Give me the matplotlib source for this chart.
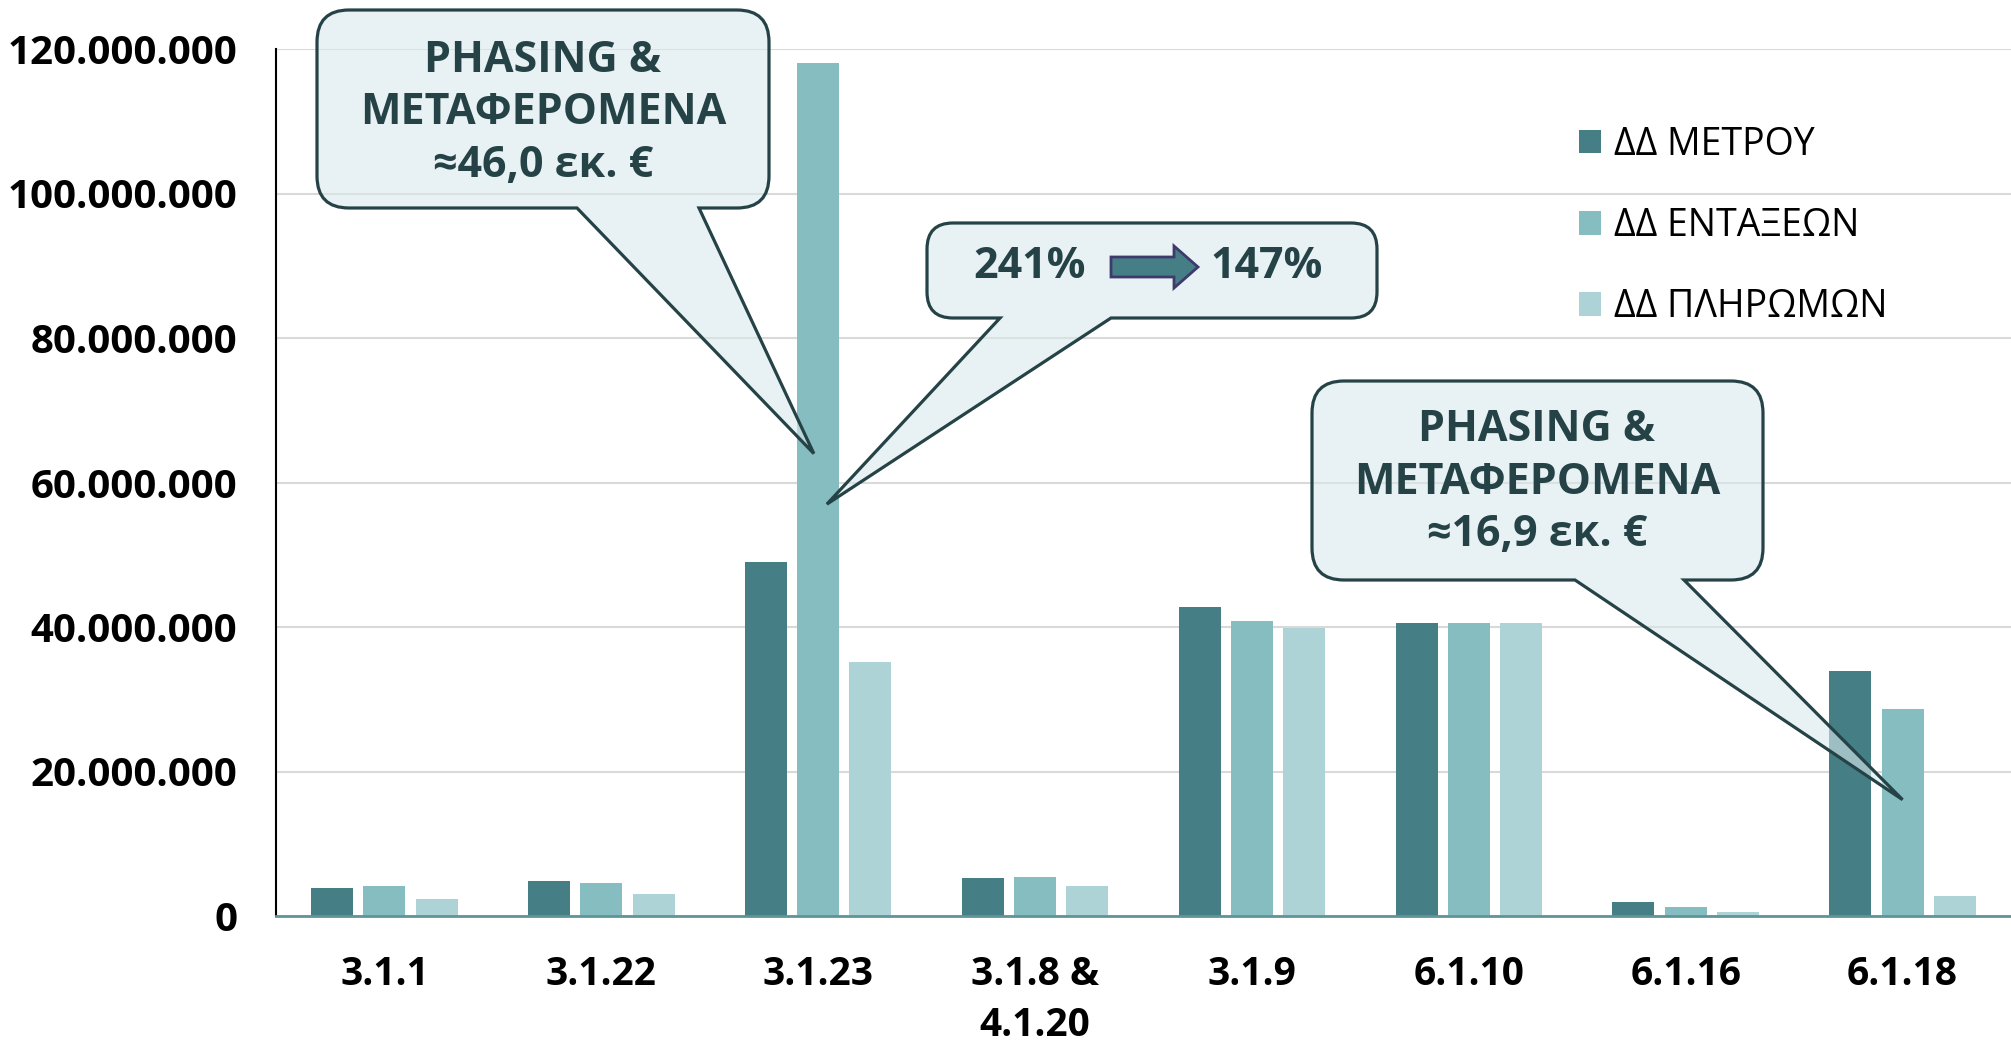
import numpy as np
import matplotlib.pyplot as plt
from matplotlib.path import Path
from matplotlib.patches import PathPatch, Polygon
from matplotlib.ticker import FuncFormatter

plt.rcParams['font.family'] = ['Open Sans', 'DejaVu Sans']

W, H = 2011, 1042

# Δεδομένα (εκτίμηση από το γράφημα)
categories = ['3.1.1', '3.1.22', '3.1.23', '3.1.8 &\n4.1.20', '3.1.9', '6.1.10', '6.1.16', '6.1.18']
dd_metrou = [3.9e6, 4.9e6, 49.0e6, 5.2e6, 42.8e6, 40.6e6, 1.9e6, 33.9e6]
dd_entaxeon = [4.1e6, 4.5e6, 118.0e6, 5.4e6, 40.8e6, 40.6e6, 1.3e6, 28.7e6]
dd_pliromon = [2.4e6, 3.0e6, 35.2e6, 4.2e6, 39.8e6, 40.6e6, 0.6e6, 2.7e6]
series_names = ['ΔΔ ΜΕΤΡΟΥ', 'ΔΔ ΕΝΤΑΞΕΩΝ', 'ΔΔ ΠΛΗΡΩΜΩΝ']
colors = ['#457f85', '#86bdc1', '#aed3d6']
yticks = np.arange(0, 120e6 + 1, 20e6)

fig = plt.figure(figsize=(W / 100, H / 100), dpi=100)
ax = fig.add_axes([276 / W, 1 - 916 / H, 1 - 276 / W, (916 - 49) / H])

x = np.arange(len(categories))
bw = 0.194
step = 0.241
for i, (vals, name, c) in enumerate(zip([dd_metrou, dd_entaxeon, dd_pliromon], series_names, colors)):
    ax.bar(x + (i - 1) * step, vals, width=bw, color=c, label=name, zorder=2)

ax.set_xlim(-0.5, len(categories) - 0.5)
ax.set_ylim(0, 120e6)
ax.set_yticks(yticks)
ax.yaxis.set_major_formatter(FuncFormatter(lambda v, p: f'{v:,.0f}'.replace(',', '.')))
ax.set_xticks(x)
ax.set_xticklabels(categories, linespacing=1.4)
ax.tick_params(axis='y', length=0, pad=28, labelsize=29)
ax.tick_params(axis='x', length=0, pad=28, labelsize=28)
for lab in ax.get_xticklabels() + ax.get_yticklabels():
    lab.set_fontweight('bold')
ax.grid(axis='y', color='#d9d9d9', linewidth=1.5, zorder=0)
ax.set_axisbelow(True)
for s in ['top', 'right']:
    ax.spines[s].set_visible(False)
ax.spines['left'].set_color('black')
ax.spines['left'].set_linewidth(1.5)
ax.spines['bottom'].set_color('#5f9599')
ax.spines['bottom'].set_linewidth(2)

ax.legend(loc='upper left', bbox_to_anchor=(1545 / W, 1 - 92 / H), bbox_transform=fig.transFigure,
          frameon=False, fontsize=27, handlelength=0.6, handleheight=0.6, handletextpad=0.35,
          labelspacing=1.15)

edge = '#254346'
fill = (217 / 255, 233 / 255, 235 / 255, 0.6)


def fig_pt(px, py):
    # pixel (από πάνω αριστερά) -> συντεταγμένες figure
    return (px / W, 1 - py / H)


def data_pt(xd, yd):
    disp = ax.transData.transform((xd, yd))
    return tuple(fig.transFigure.inverted().transform(disp))


def callout(box, base, tip_data, r=32):
    x0, y0, x1, y1 = box
    b0, b1 = base
    verts = [fig_pt(x0 + r, y0), fig_pt(x1 - r, y0), fig_pt(x1, y0), fig_pt(x1, y0 + r),
             fig_pt(x1, y1 - r), fig_pt(x1, y1), fig_pt(x1 - r, y1),
             fig_pt(b1, y1), data_pt(*tip_data), fig_pt(b0, y1),
             fig_pt(x0 + r, y1), fig_pt(x0, y1), fig_pt(x0, y1 - r),
             fig_pt(x0, y0 + r), fig_pt(x0, y0), fig_pt(x0 + r, y0), (0, 0)]
    codes = [Path.MOVETO, Path.LINETO, Path.CURVE3, Path.CURVE3,
             Path.LINETO, Path.CURVE3, Path.CURVE3,
             Path.LINETO, Path.LINETO, Path.LINETO,
             Path.LINETO, Path.CURVE3, Path.CURVE3,
             Path.LINETO, Path.CURVE3, Path.CURVE3, Path.CLOSEPOLY]
    fig.add_artist(PathPatch(Path(verts, codes), facecolor=fill, edgecolor=edge,
                             linewidth=2.3, transform=fig.transFigure, zorder=5))


callout((317, 10, 769, 208), (577, 699), (1.98, 64e6))
callout((927, 223, 1377, 318), (1000, 1111), (2.04, 57e6), r=26)
callout((1312, 381, 1763, 580), (1575, 1684), (7.0, 16.1e6))

txt = dict(color=edge, fontsize=31, fontweight='bold', ha='center', va='center',
           linespacing=1.3, transform=fig.transFigure, zorder=6)
fig.text(*fig_pt(543, 113), 'PHASING &\nΜΕΤΑΦΕΡΟΜΕΝΑ\n≈46,0 εκ. €', **txt)
fig.text(*fig_pt(1537, 482), 'PHASING &\nΜΕΤΑΦΕΡΟΜΕΝΑ\n≈16,9 εκ. €', **txt)
fig.text(*fig_pt(1030, 267), '241%', **txt)
fig.text(*fig_pt(1267, 267), '147%', **txt)

# βέλος μέσα στο πλαίσιο
arrow_px = [(1111, 257), (1174, 257), (1174, 246), (1198, 267), (1174, 288), (1174, 277), (1111, 277)]
fig.add_artist(Polygon([fig_pt(*p) for p in arrow_px], closed=True, facecolor='#457f85',
                       edgecolor='#3e3a6b', linewidth=2, transform=fig.transFigure, zorder=6))

fig.savefig('out.png', dpi=100)
